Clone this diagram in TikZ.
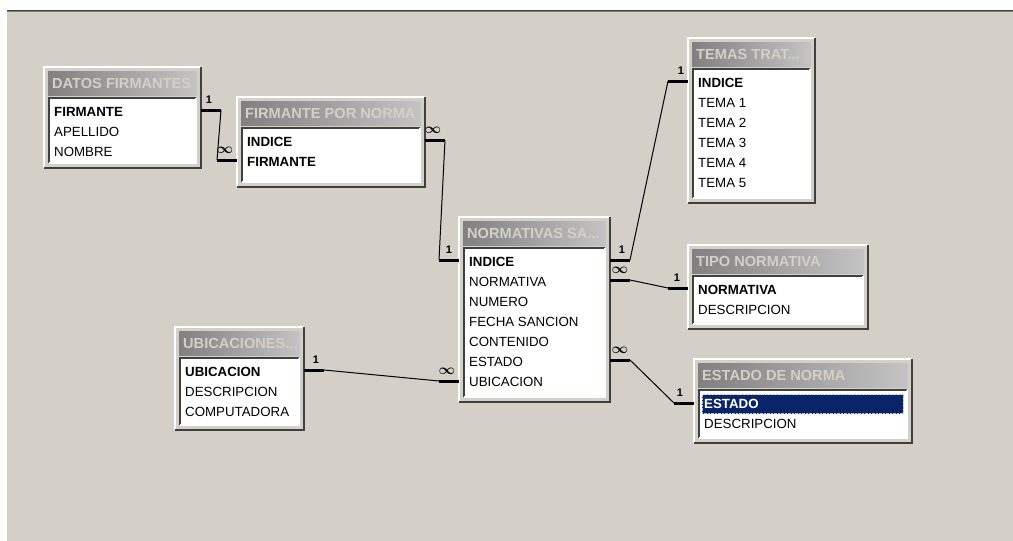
\documentclass[tikz,border=0pt]{standalone}
\usepackage{fontspec}
\setmainfont{Liberation Sans}
\usetikzlibrary{calc,fit}

\definecolor{winface}{HTML}{D4D0C8}
\definecolor{windark}{HTML}{404040}
\definecolor{winshadow}{HTML}{808080}
\definecolor{captionL}{HTML}{808080}
\definecolor{captionR}{HTML}{C4C4C4}
\definecolor{selblue}{HTML}{0A246A}

\tikzset{
  tblframe/.style={fill=winface, inner sep=0pt, outer sep=0pt},
  listbox/.style={fill=white, inner sep=0pt, outer sep=0pt},
  edgelit/.style={white, line width=1.5pt},
  edgedark/.style={windark, line width=1.5pt},
  titlebar/.style={left color=captionL, right color=captionR},
  titletxt/.style={text=winface, font=\bfseries\fontsize{14.6}{16}\selectfont, inner sep=0pt, text height=10.5pt, text depth=0pt},
  fieldtxt/.style={font=\fontsize{13.3}{15}\selectfont, inner sep=0pt, text height=9.6pt, text depth=0pt},
  keytxt/.style={fieldtxt, font=\bfseries\fontsize{13.3}{15}\selectfont},
  seltxt/.style={keytxt, text=white},
  selbox/.style={fill=selblue, draw=captionR, densely dotted, inner sep=0pt},
  stub/.style={line width=3pt},
  link/.style={line width=1pt},
  card/.style={anchor=south, inner sep=0pt, yshift=5pt, font=\bfseries\fontsize{11}{12}\selectfont},
  cardmany/.style={card, font=\fontsize{14.5}{15}\selectfont\boldmath},
}

% one table window: name, left, top, right, bottom, title
\newcommand{\dbtable}[6]{%
  \node[tblframe, fit={(#2,#3) (#4,#5)}] (#1) {};
  \draw[edgelit] (#1.south west) -- (#1.north west) -- (#1.north east);
  \draw[edgedark] (#1.north east) -- (#1.south east) -- (#1.south west);
  \shade[titlebar] ([shift={(4,4)}]#1.north west) rectangle ([shift={(-4,28)}]#1.north east);
  \node[titletxt, anchor=west] (#1-t) at ([shift={(8,16)}]#1.north west) {#6};
  \node[listbox, fit={([shift={(5,31)}]#1.north west) ([shift={(-5,-5)}]#1.south east)}] (#1-l) {};
  \draw[edgedark] (#1-l.south west) -- (#1-l.north west) -- (#1-l.north east);
  \draw[edgelit] (#1-l.north east) -- (#1-l.south east) -- (#1-l.south west);
}
% one field: table, row name, index, style, text
\newcommand{\dbrow}[5]{%
  \node[#4, anchor=west] (#2) at ([shift={(10,25+20*#3)}]#1.north west) {#5};
}

\begin{document}
\begin{tikzpicture}[x=1pt,y=-1pt]
\useasboundingbox (0,0) rectangle (1013,541);
\fill[white] (0,0) rectangle (1013,541);
\fill[winface] (7,11) rectangle (1013,541);
\draw[windark] (7,10) -- (1013,10);
\draw[winshadow] (7,11.5) -- (1013,11.5);

% tables
\dbtable{df}{44}{67}{201}{168}{DATOS FIRMANTES}
\dbrow{df}{df-firmante}{1}{keytxt}{FIRMANTE}
\dbrow{df}{df-apellido}{2}{fieldtxt}{APELLIDO}
\dbrow{df}{df-nombre}{3}{fieldtxt}{NOMBRE}

\dbtable{fpn}{237}{97}{425}{187}{FIRMANTE POR NORMA}
\dbrow{fpn}{fpn-indice}{1}{keytxt}{INDICE}
\dbrow{fpn}{fpn-firmante}{2}{keytxt}{FIRMANTE}

\dbtable{ns}{459}{217}{610}{402}{NORMATIVAS SA...}
\dbrow{ns}{ns-indice}{1}{keytxt}{INDICE}
\dbrow{ns}{ns-normativa}{2}{fieldtxt}{NORMATIVA}
\dbrow{ns}{ns-numero}{3}{fieldtxt}{NUMERO}
\dbrow{ns}{ns-fecha}{4}{fieldtxt}{FECHA SANCION}
\dbrow{ns}{ns-contenido}{5}{fieldtxt}{CONTENIDO}
\dbrow{ns}{ns-estado}{6}{fieldtxt}{ESTADO}
\dbrow{ns}{ns-ubicacion}{7}{fieldtxt}{UBICACION}

\dbtable{tt}{688}{38}{815}{203}{TEMAS TRAT...}
\dbrow{tt}{tt-indice}{1}{keytxt}{INDICE}
\dbrow{tt}{tt-tema1}{2}{fieldtxt}{TEMA 1}
\dbrow{tt}{tt-tema2}{3}{fieldtxt}{TEMA 2}
\dbrow{tt}{tt-tema3}{4}{fieldtxt}{TEMA 3}
\dbrow{tt}{tt-tema4}{5}{fieldtxt}{TEMA 4}
\dbrow{tt}{tt-tema5}{6}{fieldtxt}{TEMA 5}

\dbtable{tn}{688}{245}{868}{329}{TIPO NORMATIVA}
\dbrow{tn}{tn-normativa}{1}{keytxt}{NORMATIVA}
\dbrow{tn}{tn-descripcion}{2}{fieldtxt}{DESCRIPCION}

\dbtable{en}{694}{359}{912}{443}{ESTADO DE NORMA}
\node[selbox, anchor=west, minimum width=201pt, minimum height=19pt] (en-sel) at ([shift={(8,45)}]en.north west) {};
\dbrow{en}{en-estado}{1}{seltxt}{ESTADO}
\dbrow{en}{en-descripcion}{2}{fieldtxt}{DESCRIPCION}

\dbtable{ub}{175}{327}{304}{430}{UBICACIONES...}
\dbrow{ub}{ub-ubicacion}{1}{keytxt}{UBICACION}
\dbrow{ub}{ub-descripcion}{2}{fieldtxt}{DESCRIPCION}
\dbrow{ub}{ub-computadora}{3}{fieldtxt}{COMPUTADORA}

% relations
\coordinate (r1a) at ($(df.east |- df-firmante)+(0,-2)$);
\coordinate (r1b) at ($(fpn.west |- fpn-firmante)+(0,-2)$);
\draw[stub] (r1a) -- ++(20,0) node[card, pos=.4] {1} coordinate (r1c);
\draw[stub] (r1b) -- ++(-20,0) node[cardmany, pos=.6] {$\infty$} coordinate (r1d);
\draw[link] (r1c) -- (r1d);

\coordinate (r2a) at ($(fpn.east |- fpn-indice)+(0,-2)$);
\coordinate (r2b) at ($(ns.west |- ns-indice)+(0,-2)$);
\draw[stub] (r2a) -- ++(20,0) node[cardmany, pos=.4] {$\infty$} coordinate (r2c);
\draw[stub] (r2b) -- ++(-20,0) node[card, pos=.5] {1} coordinate (r2d);
\draw[link] (r2c) -- (r2d);

\coordinate (r3a) at ($(ns.east |- ns-indice)+(0,-2)$);
\coordinate (r3b) at ($(tt.west |- tt-indice)+(0,-2)$);
\draw[stub] (r3a) -- ++(20,0) node[card, pos=.6] {1} coordinate (r3c);
\draw[stub] (r3b) -- ++(-20,0) node[card, pos=.35] {1} coordinate (r3d);
\draw[link] (r3c) -- (r3d);

\coordinate (r4a) at ($(ns.east |- ns-normativa)+(0,-2)$);
\coordinate (r4b) at ($(tn.west |- tn-normativa)+(0,-2)$);
\draw[stub] (r4a) -- ++(20,0) node[cardmany, pos=.5] {$\infty$} coordinate (r4c);
\draw[stub] (r4b) -- ++(-20,0) node[card, pos=.55] {1} coordinate (r4d);
\draw[link] (r4c) -- (r4d);

\coordinate (r5a) at ($(ns.east |- ns-estado)+(0,-2)$);
\coordinate (r5b) at ($(en.west |- en-estado)+(0,-1)$);
\draw[stub] (r5a) -- ++(20,0) node[cardmany, pos=.5] {$\infty$} coordinate (r5c);
\draw[stub] (r5b) -- ++(-20,0) node[card, pos=.7] {1} coordinate (r5d);
\draw[link] (r5c) -- (r5d);

\coordinate (r6a) at ($(ub.east |- ub-ubicacion)+(0,-2)$);
\coordinate (r6b) at ($(ns.west |- ns-ubicacion)+(0,-1)$);
\draw[stub] (r6a) -- ++(20,0) node[card, pos=.6] {1} coordinate (r6c);
\draw[stub] (r6b) -- ++(-20,0) node[cardmany, pos=.6] {$\infty$} coordinate (r6d);
\draw[link] (r6c) -- (r6d);
\end{tikzpicture}
\end{document}
